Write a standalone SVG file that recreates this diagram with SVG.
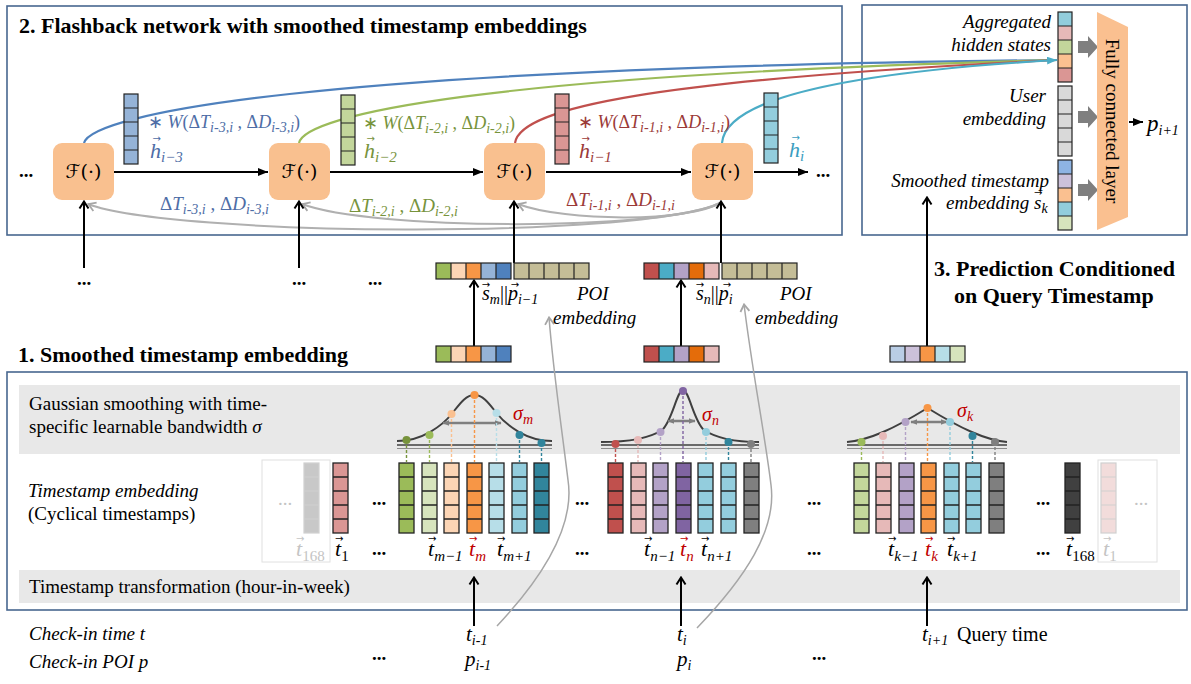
<svg xmlns="http://www.w3.org/2000/svg" width="1191" height="684" viewBox="0 0 1191 684">
  <defs>
    <style>
      text { font-family: "Liberation Serif", "Times New Roman", serif; }
      .ttl { font-size: 22px; font-weight: bold; }
      .lb { font-size: 19px; }
      .it { font-style: italic; }
      .up { font-style: normal; }
      .mv { font-size: 22px; font-style: italic; }
      .sb { font-size: 14px; }
      .sv { font-size: 15px; }
      .vt { font-family: "DejaVu Sans", sans-serif; font-size: 10px; font-style: normal; }
      .el { font-size: 19px; font-weight: bold; text-anchor: middle; }
      .end { text-anchor: end; }
      .frame { fill: none; stroke: #48678F; stroke-width: 1.6; }
      .band { fill: #E8E8E8; }
      .fbox { fill: #F9C08F; }
      .fl { font-family: "DejaVu Serif", "DejaVu Sans", serif; font-size: 19px; text-anchor: middle; }
      .ln { fill: none; stroke: #000; stroke-width: 2; }
      .gl { fill: none; stroke: #B0B0B0; stroke-width: 2; }
      .gt { fill: none; stroke: #A6A6A6; stroke-width: 1.5; }
      .cv { fill: none; stroke-width: 2.2; }
      .bell { fill: none; stroke: #3F3F3F; stroke-width: 2; }
      .base { stroke: #404040; stroke-width: 1.6; }
      .base2 { stroke: #8C8C8C; stroke-width: 1.2; }
      .dash { stroke-width: 1.4; stroke-dasharray: 3 2; fill: none; }
      .sig { stroke: #7F7F7F; stroke-width: 2.5; }
      .fade { fill: #fff; stroke: #E0E0E0; stroke-width: 1; }
      .blk { fill: #7F7F7F; }
      .cb { fill: #4E6DA6; }
      .cg { fill: #77933C; }
      .cr { fill: #9B3A38; }
      .cc { fill: #3A9DC0; }
      .red { fill: #C00000; }
      .fd { fill: #C4C4C4; }
    </style>
    <!-- five-cell grid overlays -->
    <g id="tv"><rect width="15" height="70" fill="none" stroke="#222" stroke-width="1.3"/><path d="M0,14h15M0,28h15M0,42h15M0,56h15" stroke="#222" stroke-width="1.3"/></g>
    <g id="tvf"><rect width="15" height="70" fill="none" stroke="#D0D0D0" stroke-width="1.2"/><path d="M0,14h15M0,28h15M0,42h15M0,56h15" stroke="#D0D0D0" stroke-width="1.2"/></g>
    <g id="hv"><rect width="14" height="70" fill="none" stroke="#222" stroke-width="1.2"/><path d="M0,14h14M0,28h14M0,42h14M0,56h14" stroke="#222" stroke-width="1.2"/></g>
    <g id="hh"><rect width="75" height="16" fill="none" stroke="#222" stroke-width="1.2"/><path d="M15,0v16M30,0v16M45,0v16M60,0v16" stroke="#222" stroke-width="1.2"/></g>
    <marker id="mA" viewBox="0 0 10 8" refX="10" refY="4" markerWidth="10" markerHeight="8" markerUnits="userSpaceOnUse" orient="auto"><path d="M0,0 L10,4 L0,8 Z" fill="#000"/></marker>
    <marker id="mO" viewBox="0 0 12 12" refX="10.5" refY="6" markerWidth="12" markerHeight="12" markerUnits="userSpaceOnUse" orient="auto"><path d="M3,1.5 L10,6 L3,10.5" fill="none" stroke="#000" stroke-width="2"/></marker>
    <marker id="mG" viewBox="0 0 12 12" refX="10.5" refY="6" markerWidth="12" markerHeight="12" markerUnits="userSpaceOnUse" orient="auto"><path d="M3,1.5 L10,6 L3,10.5" fill="none" stroke="#A6A6A6" stroke-width="1.8"/></marker>
    <marker id="mC" viewBox="0 0 10 8" refX="10" refY="4" markerWidth="10" markerHeight="8" markerUnits="userSpaceOnUse" orient="auto"><path d="M0,0 L10,4 L0,8 Z" fill="#4BACC6"/></marker>
    <marker id="mS" viewBox="0 0 10 10" refX="9" refY="5" markerWidth="7" markerHeight="7" markerUnits="userSpaceOnUse" orient="auto-start-reverse"><path d="M0,1 L10,5 L0,9 Z" fill="#7F7F7F"/></marker>
  </defs>

  <rect width="1191" height="684" fill="#fff"/>

  <!-- ===== Section frames ===== -->
  <rect class="frame" x="7" y="6" width="835" height="229"/>
  <rect class="frame" x="862" y="5" width="325" height="230"/>
  <rect class="frame" x="7" y="372" width="1180" height="238"/>
  <rect class="band" x="19" y="385" width="1161" height="69"/>
  <rect class="band" x="19" y="570" width="1161" height="33"/>

  <text class="ttl" x="19" y="33">2. Flashback network with smoothed timestamp embeddings</text>
  <text class="ttl" x="18" y="362">1. Smoothed timestamp embedding</text>
  <text class="ttl" x="934" y="276">3. Prediction Conditioned</text>
  <text class="ttl" x="954" y="303">on Query Timestamp</text>

  <!-- ===== Connectors ===== -->
  <g id="connectors">
    <!-- aggregation curves to the hidden-state vector -->
    <path class="cv" stroke="#4F81BD" d="M84,143 C92,115 300,68 1057,60"/>
    <path class="cv" stroke="#9BBB59" d="M299,143 C305,115 480,75 1057,60"/>
    <path class="cv" stroke="#C0504D" d="M515,143 C520,108 650,80 1057,60"/>
    <path class="cv" stroke="#4BACC6" d="M722,143 C725,108 800,75 1057,60" marker-end="url(#mC)"/>
    <!-- recurrent chain -->
    <path class="ln" d="M114,172 H268" marker-end="url(#mA)"/>
    <path class="ln" d="M330,172 H483" marker-end="url(#mA)"/>
    <path class="ln" d="M546,172 H691" marker-end="url(#mA)"/>
    <path class="ln" d="M754,172 H808" marker-end="url(#mA)"/>
    <!-- time / distance intervals back to earlier steps -->
    <path class="gl" d="M720,203 C640,240 170,236 88,204" marker-end="url(#mG)"/>
    <path class="gl" d="M720,203 C660,232 370,230 302,204" marker-end="url(#mG)"/>
    <path class="gl" d="M720,203 C690,222 565,222 518,204" marker-end="url(#mG)"/>
    <!-- inputs to recurrent cells -->
    <path class="ln" d="M84,268 V201" marker-end="url(#mO)"/>
    <path class="ln" d="M299,268 V201" marker-end="url(#mO)"/>
    <path class="ln" d="M514,263 V201" marker-end="url(#mO)"/>
    <path class="ln" d="M721,263 V201" marker-end="url(#mO)"/>
    <!-- smoothed embeddings into concatenations -->
    <path class="ln" d="M474,346 V280" marker-end="url(#mO)"/>
    <path class="ln" d="M681,346 V280" marker-end="url(#mO)"/>
    <path class="ln" d="M927,346 V197" marker-end="url(#mO)"/>
    <!-- check-in times into the transformation -->
    <path class="ln" d="M474,626 V577" marker-end="url(#mO)"/>
    <path class="ln" d="M681,626 V577" marker-end="url(#mO)"/>
    <path class="ln" d="M927,626 V577" marker-end="url(#mO)"/>
    <!-- POI lookups -->
    <path class="gt" d="M497,626 C545,575 575,525 568,480 C562,430 553,370 549,317" marker-end="url(#mG)"/>
    <path class="gt" d="M697,628 C745,578 777,530 771,485 C765,435 752,370 744,304" marker-end="url(#mG)"/>
    <!-- output -->
    <path class="ln" d="M1129,122 H1143" stroke-width="1.6" marker-end="url(#mA)"/>
  </g>

  <!-- ===== Flashback cells ===== -->
  <g id="f1"><rect class="fbox" x="53" y="143" width="61" height="57" rx="9"/><text class="fl" x="83.5" y="178">ℱ(·)</text></g>
  <g id="f2"><rect class="fbox" x="269" y="143" width="61" height="57" rx="9"/><text class="fl" x="299.5" y="178">ℱ(·)</text></g>
  <g id="f3"><rect class="fbox" x="484" y="143" width="61" height="57" rx="9"/><text class="fl" x="514.5" y="178">ℱ(·)</text></g>
  <g id="f4"><rect class="fbox" x="692" y="143" width="61" height="57" rx="9"/><text class="fl" x="722.5" y="178">ℱ(·)</text></g>
  <text class="el" x="26" y="177">...</text>
  <text class="el" x="823" y="177">...</text>
  <text class="el" x="84" y="285">...</text>
  <text class="el" x="299" y="285">...</text>
  <text class="el" x="375" y="285">...</text>

  <!-- ===== Hidden states ===== -->
  <g id="h3">
    <rect x="124" y="94" width="14" height="70" fill="#95B3D7"/><use href="#hv" x="124" y="94"/>
    <text class="lb cb" x="148" y="128" style="font-size:18px">∗ <tspan class="it">W</tspan>(Δ<tspan class="it">T</tspan><tspan class="it sb" dy="4">i-3,i</tspan><tspan dy="-4"> , Δ</tspan><tspan class="it">D</tspan><tspan class="it sb" dy="4">i-3,i</tspan><tspan dy="-4">)</tspan></text>
    <text class="mv cb" x="150" y="158">h<tspan class="sv" dy="4">i−3</tspan><tspan class="vt" x="152.5" y="142">→</tspan></text>
    <text class="lb cb" x="160" y="210">Δ<tspan class="it">T</tspan><tspan class="it sb" dy="4">i-3,i</tspan><tspan dy="-4"> , Δ</tspan><tspan class="it">D</tspan><tspan class="it sb" dy="4">i-3,i</tspan></text>
  </g>
  <g id="h2">
    <rect x="341" y="95" width="14" height="70" fill="#C3D69B"/><use href="#hv" x="341" y="95"/>
    <text class="lb cg" x="363" y="129" style="font-size:18px">∗ <tspan class="it">W</tspan>(Δ<tspan class="it">T</tspan><tspan class="it sb" dy="4">i-2,i</tspan><tspan dy="-4"> , Δ</tspan><tspan class="it">D</tspan><tspan class="it sb" dy="4">i-2,i</tspan><tspan dy="-4">)</tspan></text>
    <text class="mv cg" x="364" y="158">h<tspan class="sv" dy="4">i−2</tspan><tspan class="vt" x="366.5" y="142">→</tspan></text>
    <text class="lb cg" x="349" y="212">Δ<tspan class="it">T</tspan><tspan class="it sb" dy="4">i-2,i</tspan><tspan dy="-4"> , Δ</tspan><tspan class="it">D</tspan><tspan class="it sb" dy="4">i-2,i</tspan></text>
  </g>
  <g id="h1">
    <rect x="555" y="94" width="14" height="70" fill="#DA9694"/><use href="#hv" x="555" y="94"/>
    <text class="lb cr" x="578" y="128" style="font-size:18px">∗ <tspan class="it">W</tspan>(Δ<tspan class="it">T</tspan><tspan class="it sb" dy="4">i-1,i</tspan><tspan dy="-4"> , Δ</tspan><tspan class="it">D</tspan><tspan class="it sb" dy="4">i-1,i</tspan><tspan dy="-4">)</tspan></text>
    <text class="mv cr" x="579" y="158">h<tspan class="sv" dy="4">i−1</tspan><tspan class="vt" x="581.5" y="142">→</tspan></text>
    <text class="lb cr" x="566" y="206">Δ<tspan class="it">T</tspan><tspan class="it sb" dy="4">i-1,i</tspan><tspan dy="-4"> , Δ</tspan><tspan class="it">D</tspan><tspan class="it sb" dy="4">i-1,i</tspan></text>
  </g>
  <g id="h0">
    <rect x="764" y="93" width="14" height="70" fill="#93CDDD"/><use href="#hv" x="764" y="93"/>
    <text class="mv cc" x="789" y="157">h<tspan class="sv" dy="4">i</tspan><tspan class="vt" x="791.5" y="141">→</tspan></text>
  </g>

  <!-- ===== Prediction block ===== -->
  <g id="agg">
    <rect x="1058" y="12" width="14" height="14" fill="#92CDDC"/>
    <rect x="1058" y="26" width="14" height="14" fill="#E6B9B8"/>
    <rect x="1058" y="40" width="14" height="14" fill="#C3D69B"/>
    <rect x="1058" y="54" width="14" height="14" fill="#FAC090"/>
    <rect x="1058" y="68" width="14" height="14" fill="#DA9694"/>
    <use href="#hv" x="1058" y="12"/>
    <text class="lb it end" x="1051" y="28">Aggregated</text>
    <text class="lb it end" x="1051" y="51">hidden states</text>
  </g>
  <g id="user">
    <rect x="1058" y="86" width="14" height="70" fill="#D9D9D9"/><use href="#hv" x="1058" y="86"/>
    <text class="lb it end" x="1046" y="102">User</text>
    <text class="lb it end" x="1046" y="125">embedding</text>
  </g>
  <g id="sk">
    <rect x="1058" y="160" width="14" height="14" fill="#8EB4E3"/>
    <rect x="1058" y="174" width="14" height="14" fill="#CCC1DA"/>
    <rect x="1058" y="188" width="14" height="14" fill="#FAC090"/>
    <rect x="1058" y="202" width="14" height="14" fill="#92CDDC"/>
    <rect x="1058" y="216" width="14" height="14" fill="#D7E4BD"/>
    <use href="#hv" x="1058" y="160"/>
    <text class="lb it end" x="1049" y="187">Smoothed timestamp</text>
    <text class="lb it" x="946" y="209">embedding s<tspan class="sb" dy="4">k</tspan><tspan class="vt" x="1034" y="196">→</tspan></text>
  </g>
  <g id="feed">
    <path class="blk" d="M1078,41 H1088 V36 L1098,47 L1088,58 V53 H1078 Z"/>
    <path class="blk" d="M1078,111 H1088 V106 L1098,117 L1088,128 V123 H1078 Z"/>
    <path class="blk" d="M1078,184 H1088 V179 L1098,190 L1088,201 V196 H1078 Z"/>
  </g>
  <g id="fc">
    <polygon points="1097,12 1128,27 1128,217 1097,230" fill="#FAC090"/>
    <text class="lb" transform="translate(1106,121) rotate(90)" text-anchor="middle">Fully connected layer</text>
  </g>
  <text class="it" x="1147" y="131" style="font-size:23px">p<tspan class="sb" dy="4">i+1</tspan></text>

  <!-- ===== Concatenated inputs ===== -->
  <g id="cat-m">
    <rect x="436" y="263" width="15" height="16" fill="#9BBB59"/>
    <rect x="451" y="263" width="15" height="16" fill="#FCD5B5"/>
    <rect x="466" y="263" width="15" height="16" fill="#F79646"/>
    <rect x="481" y="263" width="15" height="16" fill="#95B3D7"/>
    <rect x="496" y="263" width="15" height="16" fill="#4F81BD"/>
    <use href="#hh" x="436" y="263"/>
    <rect x="514" y="263" width="75" height="16" fill="#C4BD97"/><use href="#hh" x="514" y="263"/>
    <text class="mv" x="482" y="300" style="font-size:20px">s<tspan class="sb" dy="4">m</tspan><tspan class="up" dy="-4">||</tspan>p<tspan class="sb" dy="4">i−1</tspan><tspan class="vt" x="481.8" y="288">→</tspan><tspan class="vt" x="510.8" y="288">→</tspan></text>
    <text class="lb it" x="577" y="300">POI</text>
    <text class="lb it" x="553" y="324">embedding</text>
  </g>
  <g id="sm">
    <rect x="436" y="346" width="15" height="16" fill="#9BBB59"/>
    <rect x="451" y="346" width="15" height="16" fill="#FCD5B5"/>
    <rect x="466" y="346" width="15" height="16" fill="#F79646"/>
    <rect x="481" y="346" width="15" height="16" fill="#95B3D7"/>
    <rect x="496" y="346" width="15" height="16" fill="#4F81BD"/>
    <use href="#hh" x="436" y="346"/>
  </g>
  <g id="cat-n">
    <rect x="644" y="263" width="15" height="16" fill="#C0504D"/>
    <rect x="659" y="263" width="15" height="16" fill="#4BACC6"/>
    <rect x="674" y="263" width="15" height="16" fill="#B3A2C7"/>
    <rect x="689" y="263" width="15" height="16" fill="#E46C0A"/>
    <rect x="704" y="263" width="15" height="16" fill="#E6B9B8"/>
    <use href="#hh" x="644" y="263"/>
    <rect x="722" y="263" width="75" height="16" fill="#C4BD97"/><use href="#hh" x="722" y="263"/>
    <text class="mv" x="696" y="300" style="font-size:20px">s<tspan class="sb" dy="4">n</tspan><tspan class="up" dy="-4">||</tspan>p<tspan class="sb" dy="4">i</tspan><tspan class="vt" x="695.8" y="288">→</tspan><tspan class="vt" x="722.8" y="288">→</tspan></text>
    <text class="lb it" x="780" y="300">POI</text>
    <text class="lb it" x="755" y="324">embedding</text>
  </g>
  <g id="sn">
    <rect x="644" y="346" width="15" height="16" fill="#C0504D"/>
    <rect x="659" y="346" width="15" height="16" fill="#4BACC6"/>
    <rect x="674" y="346" width="15" height="16" fill="#B3A2C7"/>
    <rect x="689" y="346" width="15" height="16" fill="#E46C0A"/>
    <rect x="704" y="346" width="15" height="16" fill="#E6B9B8"/>
    <use href="#hh" x="644" y="346"/>
  </g>
  <g id="sk-q">
    <rect x="890" y="346" width="15" height="16" fill="#B9CDE5"/>
    <rect x="905" y="346" width="15" height="16" fill="#CCC1DA"/>
    <rect x="920" y="346" width="15" height="16" fill="#F79646"/>
    <rect x="935" y="346" width="15" height="16" fill="#B7DEE8"/>
    <rect x="950" y="346" width="15" height="16" fill="#D7E4BD"/>
    <use href="#hh" x="890" y="346"/>
  </g>

  <!-- ===== Smoothing band ===== -->
  <text class="lb" x="29" y="410">Gaussian smoothing with time-</text>
  <text class="lb" x="29" y="433">specific learnable bandwidth <tspan class="it">σ</tspan></text>

  <g id="gauss-m">
    <line class="base" x1="397" y1="445" x2="552" y2="445"/>
    <line class="base2" x1="397" y1="448.5" x2="552" y2="448.5"/>
    <path class="bell" d="M397,441 C422,441 442.5,425.7 452.5,413 C459.5,404.1 465.5,395 474.5,395 C483.5,395 489.5,404.1 496.5,413 C506.5,425.7 527,441 552,441"/>
    <line class="sig" x1="443" y1="423" x2="501" y2="423" marker-start="url(#mS)" marker-end="url(#mS)"/>
    <path class="dash" stroke="#77933C" d="M406.5,440V462"/><circle cx="406.5" cy="440" r="4" fill="#77933C"/>
    <path class="dash" stroke="#9BBB59" d="M429.5,435V462"/><circle cx="429.5" cy="435" r="4" fill="#9BBB59"/>
    <path class="dash" stroke="#FAC090" d="M451.5,414V462"/><circle cx="451.5" cy="414" r="4" fill="#FAC090"/>
    <path class="dash" stroke="#F79646" d="M474.5,395V462"/><circle cx="474.5" cy="395" r="4" fill="#F79646"/>
    <path class="dash" stroke="#B7DEE8" d="M496.5,413V462"/><circle cx="496.5" cy="413" r="4" fill="#B7DEE8"/>
    <path class="dash" stroke="#31859C" d="M519.5,435V462"/><circle cx="519.5" cy="435" r="4" fill="#31859C"/>
    <path class="dash" stroke="#31859C" d="M541.5,443V462"/><circle cx="541.5" cy="443" r="4" fill="#31859C"/>
    <text class="mv red" x="513" y="420" style="font-size:20px">σ<tspan class="sb" dy="4">m</tspan></text>
  </g>
  <g id="gauss-n">
    <line class="base" x1="601" y1="445" x2="759" y2="445"/>
    <line class="base2" x1="601" y1="448.5" x2="759" y2="448.5"/>
    <path class="bell" d="M601,442 C630,442 650,438 662,430 C672,422 677,390 683,390 C689,390 694,422 704,430 C716,438 736,442 759,442"/>
    <line class="sig" x1="668" y1="421" x2="695" y2="421" marker-start="url(#mS)" marker-end="url(#mS)"/>
    <path class="dash" stroke="#C0504D" d="M615.5,444V462"/><circle cx="615.5" cy="444" r="4" fill="#C0504D"/>
    <path class="dash" stroke="#E6B9B8" d="M638,440V462"/><circle cx="638" cy="440" r="4" fill="#E6B9B8"/>
    <path class="dash" stroke="#B3A2C7" d="M660.5,432V462"/><circle cx="660.5" cy="432" r="4" fill="#B3A2C7"/>
    <path class="dash" stroke="#8064A2" d="M683,391V462"/><circle cx="683" cy="391" r="4" fill="#8064A2"/>
    <path class="dash" stroke="#93CDDD" d="M706,432V462"/><circle cx="706" cy="432" r="4" fill="#93CDDD"/>
    <path class="dash" stroke="#31859C" d="M728.5,442V462"/><circle cx="728.5" cy="442" r="4" fill="#31859C"/>
    <path class="dash" stroke="#7F7F7F" d="M751,444V462"/><circle cx="751" cy="444" r="4" fill="#7F7F7F"/>
    <text class="mv red" x="702" y="421" style="font-size:20px">σ<tspan class="sb" dy="4">n</tspan></text>
  </g>
  <g id="gauss-k">
    <line class="base" x1="847" y1="445" x2="1007" y2="445"/>
    <line class="base2" x1="847" y1="448.5" x2="1007" y2="448.5"/>
    <path class="bell" d="M847,442 C870,440 895,428 927.5,408 C960,428 985,440 1007,442"/>
    <line class="sig" x1="911" y1="422" x2="947" y2="422" marker-start="url(#mS)" marker-end="url(#mS)"/>
    <path class="dash" stroke="#9BBB59" d="M861.5,442V462"/><circle cx="861.5" cy="442" r="4" fill="#9BBB59"/>
    <path class="dash" stroke="#E6B9B8" d="M883,436V462"/><circle cx="883" cy="436" r="4" fill="#E6B9B8"/>
    <path class="dash" stroke="#B3A2C7" d="M905.5,422V462"/><circle cx="905.5" cy="422" r="4" fill="#B3A2C7"/>
    <path class="dash" stroke="#F79646" d="M927.5,408V462"/><circle cx="927.5" cy="408" r="4" fill="#F79646"/>
    <path class="dash" stroke="#93CDDD" d="M950,422V462"/><circle cx="950" cy="422" r="4" fill="#93CDDD"/>
    <path class="dash" stroke="#31859C" d="M972.5,436V462"/><circle cx="972.5" cy="436" r="4" fill="#31859C"/>
    <path class="dash" stroke="#7F7F7F" d="M995,442V462"/><circle cx="995" cy="442" r="4" fill="#7F7F7F"/>
    <text class="mv red" x="957" y="417" style="font-size:20px">σ<tspan class="sb" dy="4">k</tspan></text>
  </g>

  <!-- ===== Cyclical timestamp embeddings ===== -->
  <text class="lb it" x="28" y="497">Timestamp embedding</text>
  <text class="lb" x="28" y="520">(Cyclical timestamps)</text>

  <g id="wrap-left">
    <rect class="fade" x="262" y="460" width="68" height="102"/>
    <text class="lb fd" x="285" y="505" text-anchor="middle">...</text>
    <rect x="304" y="463" width="15" height="70" fill="#C8C8C8"/><use href="#tvf" x="304" y="463"/>
    <text class="mv fd" x="296" y="556">t<tspan class="sv up" dy="5">168</tspan><tspan class="vt" x="296" y="542">→</tspan></text>
  </g>
  <g id="t1">
    <rect x="333" y="463" width="15" height="70" fill="#DA9694"/><use href="#tv" x="333" y="463"/>
    <text class="mv" x="335" y="556">t<tspan class="sv up" dy="5">1</tspan><tspan class="vt" x="335" y="542">→</tspan></text>
  </g>
  <text class="el" x="379" y="505">...</text>
  <text class="el" x="379" y="555">...</text>

  <g id="tm">
    <rect x="399" y="463" width="15" height="70" fill="#9BBB59"/><use href="#tv" x="399" y="463"/>
    <rect x="422" y="463" width="15" height="70" fill="#D7E4BD"/><use href="#tv" x="422" y="463"/>
    <rect x="444" y="463" width="15" height="70" fill="#FCD5B5"/><use href="#tv" x="444" y="463"/>
    <rect x="467" y="463" width="15" height="70" fill="#F79646"/><use href="#tv" x="467" y="463"/>
    <rect x="489" y="463" width="15" height="70" fill="#B7DEE8"/><use href="#tv" x="489" y="463"/>
    <rect x="512" y="463" width="15" height="70" fill="#93CDDD"/><use href="#tv" x="512" y="463"/>
    <rect x="534" y="463" width="15" height="70" fill="#31859C"/><use href="#tv" x="534" y="463"/>
    <text class="mv" x="428" y="556">t<tspan class="sv" dy="5">m−1</tspan><tspan class="vt" x="428" y="542">→</tspan></text>
    <text class="mv red" x="469" y="556">t<tspan class="sv" dy="5">m</tspan><tspan class="vt" x="469" y="542">→</tspan></text>
    <text class="mv" x="497" y="556">t<tspan class="sv" dy="5">m+1</tspan><tspan class="vt" x="497" y="542">→</tspan></text>
  </g>
  <text class="el" x="582" y="505">...</text>
  <text class="el" x="582" y="555">...</text>

  <g id="tn">
    <rect x="608" y="463" width="15" height="70" fill="#C0504D"/><use href="#tv" x="608" y="463"/>
    <rect x="631" y="463" width="15" height="70" fill="#E6B9B8"/><use href="#tv" x="631" y="463"/>
    <rect x="653" y="463" width="15" height="70" fill="#B3A2C7"/><use href="#tv" x="653" y="463"/>
    <rect x="676" y="463" width="15" height="70" fill="#8064A2"/><use href="#tv" x="676" y="463"/>
    <rect x="698" y="463" width="15" height="70" fill="#93CDDD"/><use href="#tv" x="698" y="463"/>
    <rect x="721" y="463" width="15" height="70" fill="#93CDDD"/><use href="#tv" x="721" y="463"/>
    <rect x="744" y="463" width="15" height="70" fill="#7F7F7F"/><use href="#tv" x="744" y="463"/>
    <text class="mv" x="644" y="556">t<tspan class="sv" dy="5">n−1</tspan><tspan class="vt" x="644" y="542">→</tspan></text>
    <text class="mv red" x="680" y="556">t<tspan class="sv" dy="5">n</tspan><tspan class="vt" x="680" y="542">→</tspan></text>
    <text class="mv" x="701" y="556">t<tspan class="sv" dy="5">n+1</tspan><tspan class="vt" x="701" y="542">→</tspan></text>
  </g>
  <text class="el" x="814" y="505">...</text>
  <text class="el" x="814" y="555">...</text>

  <g id="tk">
    <rect x="854" y="463" width="15" height="70" fill="#C3D69B"/><use href="#tv" x="854" y="463"/>
    <rect x="876" y="463" width="15" height="70" fill="#E6B9B8"/><use href="#tv" x="876" y="463"/>
    <rect x="899" y="463" width="15" height="70" fill="#B3A2C7"/><use href="#tv" x="899" y="463"/>
    <rect x="921" y="463" width="15" height="70" fill="#F79646"/><use href="#tv" x="921" y="463"/>
    <rect x="944" y="463" width="15" height="70" fill="#93CDDD"/><use href="#tv" x="944" y="463"/>
    <rect x="966" y="463" width="15" height="70" fill="#93CDDD"/><use href="#tv" x="966" y="463"/>
    <rect x="989" y="463" width="15" height="70" fill="#7F7F7F"/><use href="#tv" x="989" y="463"/>
    <text class="mv" x="888" y="556">t<tspan class="sv" dy="5">k−1</tspan><tspan class="vt" x="888" y="542">→</tspan></text>
    <text class="mv red" x="925" y="556">t<tspan class="sv" dy="5">k</tspan><tspan class="vt" x="925" y="542">→</tspan></text>
    <text class="mv" x="947" y="556">t<tspan class="sv" dy="5">k+1</tspan><tspan class="vt" x="947" y="542">→</tspan></text>
  </g>
  <text class="el" x="1043" y="505">...</text>
  <text class="el" x="1043" y="555">...</text>

  <g id="t168">
    <rect x="1065" y="463" width="15" height="70" fill="#404040"/><use href="#tv" x="1065" y="463"/>
    <text class="mv" x="1066" y="556">t<tspan class="sv up" dy="5">168</tspan><tspan class="vt" x="1066" y="542">→</tspan></text>
  </g>
  <g id="wrap-right">
    <rect class="fade" x="1098" y="460" width="59" height="102"/>
    <rect x="1101" y="463" width="15" height="70" fill="#F2DCDB"/><use href="#tvf" x="1101" y="463"/>
    <text class="lb fd" x="1141" y="505" text-anchor="middle">...</text>
    <text class="mv fd" x="1103" y="556">t<tspan class="sv up" dy="5">1</tspan><tspan class="vt" x="1103" y="542">→</tspan></text>
  </g>

  <text class="lb" x="29" y="593">Timestamp transformation (hour-in-week)</text>

  <!-- ===== Check-in sequence ===== -->
  <text class="lb it" x="29" y="640">Check-in time t</text>
  <text class="lb it" x="29" y="668">Check-in POI p</text>
  <text class="el" x="379" y="660">...</text>
  <text class="el" x="819" y="660">...</text>
  <text class="it" x="466" y="641" style="font-size:21px">t<tspan class="sb" dy="4">i-1</tspan></text>
  <text class="it" x="465" y="666" style="font-size:21px">p<tspan class="sb" dy="4">i-1</tspan></text>
  <text class="it" x="677" y="641" style="font-size:21px">t<tspan class="sb" dy="4">i</tspan></text>
  <text class="it" x="677" y="666" style="font-size:21px">p<tspan class="sb" dy="4">i</tspan></text>
  <text class="it" x="922" y="641" style="font-size:21px">t<tspan class="sb" dy="4">i+1</tspan></text>
  <text class="lb" x="957" y="641" style="font-size:20px">Query time</text>
</svg>
